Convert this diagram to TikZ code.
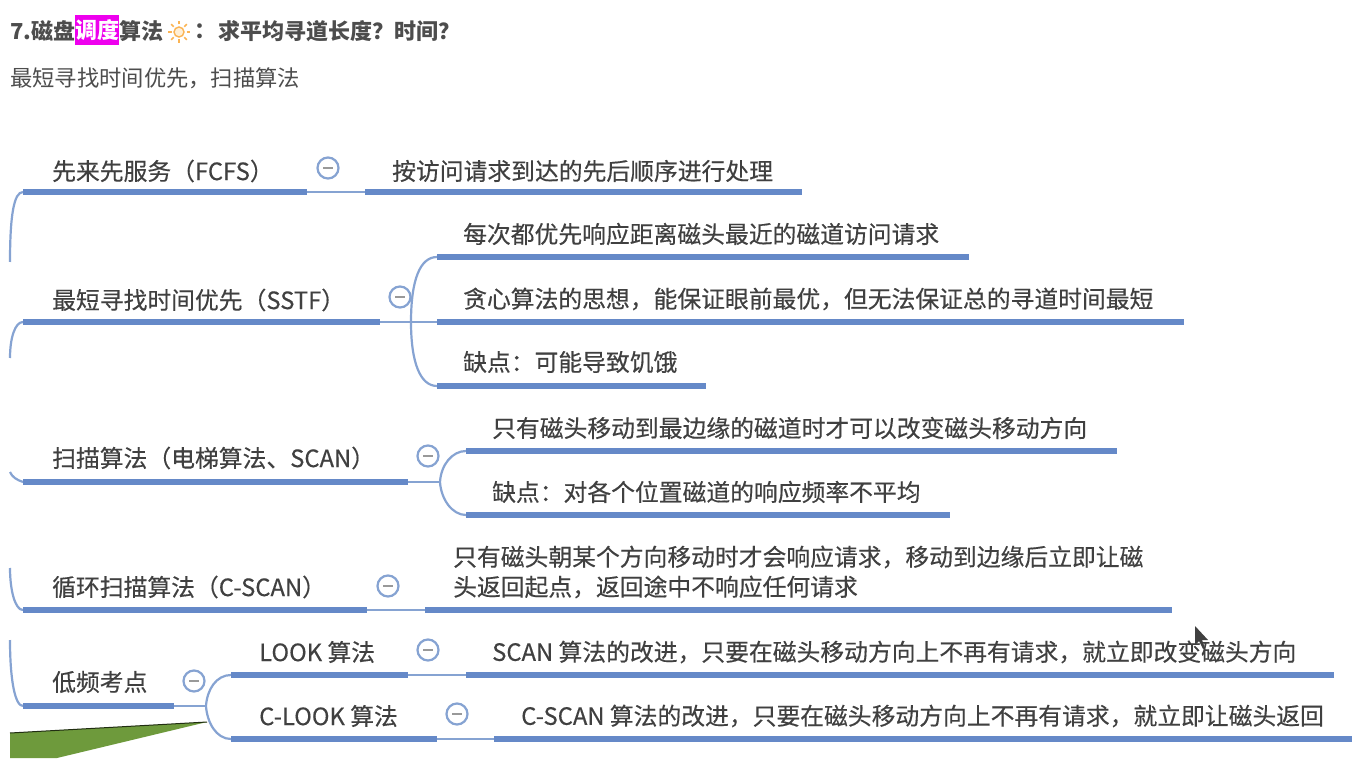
\documentclass[tikz,border=0pt]{standalone}
\usepackage{fontspec}
\setmainfont{Noto Sans CJK SC}
\newfontfamily\mapfont[FakeBold=0.35]{Noto Sans CJK SC}
\newcommand{\fwcomma}{\char"FF0C\relax}
\newcommand{\fwcolon}{\char"FF1A\relax}
\newcommand{\fwlp}{\char"FF08\relax}
\newcommand{\fwrp}{\char"FF09\relax}
\newcommand{\fwqm}{\char"FF1F\relax}
\definecolor{txt}{HTML}{4D4D4D}
\definecolor{maptxt}{HTML}{404040}
\definecolor{barblue}{HTML}{6589C8}
\definecolor{linkblue}{HTML}{86A3D2}
\definecolor{sunorange}{HTML}{FBB454}
\definecolor{sunpale}{HTML}{FFEFD6}
\definecolor{pinkbg}{HTML}{EE00EE}
\definecolor{leaf}{HTML}{6E9A3C}
\tikzset{
  x=1pt,y=-1pt,
  head/.style={anchor=west,inner sep=0pt,text=txt,font=\fontsize{22}{26}\selectfont\bfseries},
  sub/.style={anchor=west,inner sep=0pt,text=txt,font=\fontsize{22.3}{26}\selectfont},
  maptext/.style={anchor=west,inner sep=0pt,text=maptxt,font=\mapfont\fontsize{23.8}{32}\selectfont},
  bar/.style={draw=barblue,line width=6pt},
  link/.style={draw=linkblue,line width=2.2pt},
  fold/.style={circle,draw=linkblue,line width=2.2pt,fill=white,minimum size=21pt,inner sep=0pt},
  foldmark/.style={draw=gray!80,line width=1.6pt},
}
\newcommand{\foldat}[3]{%
  \node[fold] (#1) at (#2,#3) {};
  \draw[foldmark] ([xshift=-5pt]#1.center) -- ([xshift=5pt]#1.center);
}
\begin{document}
\begin{tikzpicture}
\useasboundingbox (0,0) rectangle (1365,775);
\fill[white] (0,0) rectangle (1365,775);

% heading
\node[head] (h1) at (10,31) {7.磁盘};
\node[anchor=west,inner sep=0pt,fill=pinkbg,text=white,minimum height=30pt,minimum width=44pt,font=\fontsize{22}{26}\selectfont\bfseries] (h2) at (75,30) {调度};
\node[head] (h3) at (119,31) {算法};
\node[inner sep=0pt,circle,draw=sunorange,fill=sunpale,line width=1.4pt,minimum size=10pt] (sun) at (179,32) {};
\foreach \a in {0,45,...,315}
  \draw[sunorange,line width=1.6pt] (sun.center) ++(\a:7.5pt) -- ++(\a:3.5pt);
\node[head] (h4) at (194,31) {\fwcolon{}};
\node[head] (h5) at (218,31) {求平均寻道长度\fwqm{}时间\fwqm{}};
\node[sub] (h6) at (10,78) {最短寻找时间优先\fwcomma{}扫描算法};

% green shape
\fill[leaf] (10,733) -- (207,722) -- (57,758) -- (10,758) -- cycle;
\draw[black!70!leaf,line width=1pt] (10,733) -- (207,722);

% bars as coordinates
\coordinate (a1) at (23,192);   \coordinate (a2) at (307,192);
\coordinate (a3) at (365,192);  \coordinate (a4) at (802,192);
\coordinate (b1) at (23,322);   \coordinate (b2) at (380,322);
\coordinate (c1) at (437,257);  \coordinate (c2) at (969,257);
\coordinate (d1) at (437,322);  \coordinate (d2) at (1184,322);
\coordinate (e1) at (437,386);  \coordinate (e2) at (706,386);
\coordinate (f1) at (23,482);   \coordinate (f2) at (408,482);
\coordinate (f3) at (440,482);
\coordinate (g1) at (466,451);  \coordinate (g2) at (1117,451);
\coordinate (i1) at (466,515);  \coordinate (i2) at (950,515);
\coordinate (j1) at (23,610);   \coordinate (j2) at (367,610);
\coordinate (k1) at (425,610);  \coordinate (k2) at (1172,610);
\coordinate (l1) at (23,706);   \coordinate (l2) at (174,706);
\coordinate (l3) at (206,706);
\coordinate (m1) at (231,675);  \coordinate (m2) at (408,675);
\coordinate (n1) at (466,675);  \coordinate (n2) at (1334,675);
\coordinate (o1) at (231,739);  \coordinate (o2) at (437,739);
\coordinate (p1) at (494,739);  \coordinate (p2) at (1352,739);
\coordinate (s1) at (10,262);   \coordinate (s2) at (10,358);
\coordinate (s3) at (10,472);   \coordinate (s4) at (10,568);
\coordinate (s5) at (10,640);

% links
\draw[link] (a2) -- (a3);
\draw[link] (b2) -- (d1);
\draw[link] (f2) -- (f3);
\draw[link] (j2) -- (k1);
\draw[link] (l2) -- (l3);
\draw[link] (m2) -- (n1);
\draw[link] (o2) -- (p1);
\draw[link] (a1) .. controls (14,192) and (10,215) .. (s1);
\draw[link] (b1) .. controls (15,322) and (10,338) .. (s2);
\draw[link] (f1) .. controls (17,480) and (12,477) .. (s3);
\draw[link] (j1) .. controls (15,610) and (10,590) .. (s4);
\draw[link] (l1) .. controls (15,706) and (10,680) .. (s5);
\draw[link] (c1) .. controls (420,257) and (411,280) .. (411,322) .. controls (411,362) and (420,386) .. (e1);
\draw[link] (g1) .. controls (452,451) and (441,465) .. (f3) .. controls (441,499) and (452,515) .. (i1);
\draw[link] (m1) .. controls (216,675) and (207,690) .. (l3) .. controls (207,722) and (216,739) .. (o1);

% bars
\foreach \u/\v in {a1/a2,a3/a4,b1/b2,c1/c2,d1/d2,e1/e2,f1/f2,g1/g2,i1/i2,j1/j2,k1/k2,l1/l2,m1/m2,n1/n2,o1/o2,p1/p2}
  \draw[bar] (\u) -- (\v);

% fold marks
\foldat{fa}{328}{168}
\foldat{fb}{400}{297}
\foldat{fc}{428}{456}
\foldat{fd}{388}{586}
\foldat{fe}{194}{681}
\foldat{ff}{428}{650}
\foldat{fg}{457}{714}

% text
\node[maptext] (ta) at (52,171) {先来先服务\fwlp{}FCFS\fwrp{}};
\node[maptext] (tb) at (392,171) {按访问请求到达的先后顺序进行处理};
\node[maptext] (tc) at (52,300) {最短寻找时间优先\fwlp{}SSTF\fwrp{}};
\node[maptext] (td) at (463,234) {每次都优先响应距离磁头最近的磁道访问请求};
\node[maptext] (te) at (463,299) {贪心算法的思想\fwcomma{}能保证眼前最优\fwcomma{}但无法保证总的寻道时间最短};
\node[maptext] (tf) at (463,362) {缺点\fwcolon{}可能导致饥饿};
\node[maptext] (tg) at (52,458) {扫描算法\fwlp{}电梯算法、SCAN\fwrp{}};
\node[maptext] (th) at (492,428) {只有磁头移动到最边缘的磁道时才可以改变磁头移动方向};
\node[maptext] (ti) at (492,492) {缺点\fwcolon{}对各个位置磁道的响应频率不平均};
\node[maptext] (tj) at (52,587) {循环扫描算法\fwlp{}C-SCAN\fwrp{}};
\node[maptext] (tk) at (453,557) {只有磁头朝某个方向移动时才会响应请求\fwcomma{}移动到边缘后立即让磁};
\node[maptext] (tk2) at (453,587) {头返回起点\fwcomma{}返回途中不响应任何请求};
\node[maptext] (tl) at (52,682) {低频考点};
\node[maptext] (tm) at (259,652) {LOOK 算法};
\node[maptext] (tn) at (492,652) {SCAN 算法的改进\fwcomma{}只要在磁头移动方向上不再有请求\fwcomma{}就立即改变磁头方向};
\node[maptext] (to) at (259,716) {C-LOOK 算法};
\node[maptext] (tp) at (521,716) {C-SCAN 算法的改进\fwcomma{}只要在磁头移动方向上不再有请求\fwcomma{}就立即让磁头返回};

% cursor
\fill[black!75] (1195,626) -- (1195,645) -- (1199,641) -- (1203,649) -- (1205,648) -- (1202,640) -- (1208,640) -- cycle;
\end{tikzpicture}
\end{document}
